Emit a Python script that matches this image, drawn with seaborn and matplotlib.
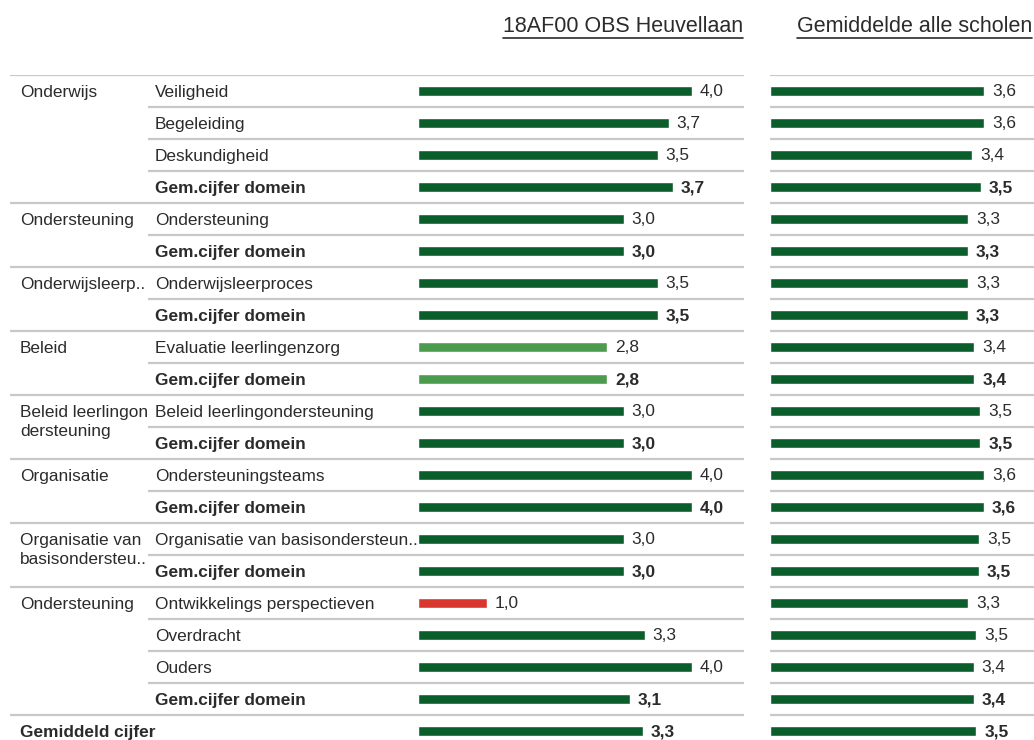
import matplotlib
matplotlib.use('Agg')
import matplotlib.pyplot as plt
from matplotlib.lines import Line2D
import pandas as pd
import seaborn as sns

# Data
groepen = ['Onderwijs', 'Ondersteuning', 'Onderwijsleerp..', 'Beleid',
           'Beleid leerlingon\ndersteuning', 'Organisatie',
           'Organisatie van\nbasisondersteu..', 'Ondersteuning', 'Gemiddeld cijfer']
groep_rijen = [4, 2, 2, 2, 2, 2, 2, 4, 1]
items = ['Veiligheid', 'Begeleiding', 'Deskundigheid', 'Gem.cijfer domein',
         'Ondersteuning', 'Gem.cijfer domein',
         'Onderwijsleerproces', 'Gem.cijfer domein',
         'Evaluatie leerlingenzorg', 'Gem.cijfer domein',
         'Beleid leerlingondersteuning', 'Gem.cijfer domein',
         'Ondersteuningsteams', 'Gem.cijfer domein',
         'Organisatie van basisondersteun..', 'Gem.cijfer domein',
         'Ontwikkelings perspectieven', 'Overdracht', 'Ouders', 'Gem.cijfer domein',
         '']
school = [4.0, 3.66, 3.5, 3.72, 3.0, 3.0, 3.5, 3.5, 2.76, 2.76, 3.0, 3.0,
          4.0, 4.0, 3.0, 3.0, 1.0, 3.31, 4.0, 3.09, 3.28]
alle_scholen = [3.6, 3.6, 3.4, 3.55, 3.33, 3.33, 3.33, 3.33, 3.44, 3.44, 3.54, 3.54,
                3.6, 3.6, 3.52, 3.52, 3.34, 3.47, 3.43, 3.43, 3.47]

W, H = 1034, 740
ROW = 32
TOP = 75
n = len(items)
lijn = '#c8c8c8'
tekst = '#2b2b2b'


def kleur(v):
    if v < 2:
        return '#d93630'
    if v < 2.9:
        return '#4b9c4f'
    return '#0b5e2b'


def bold_rij(i):
    return items[i] in ('Gem.cijfer domein', '')


sns.set_theme(style='white')
plt.rcParams['font.family'] = ['Liberation Sans', 'DejaVu Sans']

fig = plt.figure(figsize=(W / 100, H / 100), dpi=100)
bottom = (H - (TOP + n * ROW)) / H
height = n * ROW / H


def make_ax(x0, x1):
    ax = fig.add_axes([x0 / W, bottom, (x1 - x0) / W, height])
    ax.set_ylim(n - 0.5, -0.5)
    ax.axis('off')
    return ax


ax0 = make_ax(0, 418)
ax0.set_xlim(0, 418)
ax1 = make_ax(418, 744)
ax1.set_xlim(0, 326 / 68.5)
ax2 = make_ax(770, 1034)
ax2.set_xlim(0, 264 / 59.4)

# groepsgrenzen
grens = [0]
for g in groep_rijen:
    grens.append(grens[-1] + g)

# lijnen in het labelgebied
for b in range(n + 1):
    xmin = 10 if b in grens else 148
    ax0.plot([xmin, 418], [b - 0.5, b - 0.5], color=lijn, lw=1.6, solid_capstyle='butt')
for ax in (ax1, ax2):
    for b in range(n + 1):
        ax.axhline(b - 0.5, color=lijn, lw=1.6, zorder=0)

# labels
for gi, g in enumerate(groepen):
    start = grens[gi]
    gewicht = 'bold' if g == 'Gemiddeld cijfer' else 'normal'
    for k, regel in enumerate(g.split('\n')):
        ax0.text(20, start + 0.04 + k * 0.6, regel, fontsize=12.4, color=tekst,
                 va='center', ha='left', fontweight=gewicht)
for i, it in enumerate(items):
    ax0.text(155, i + 0.06, it, fontsize=12.4, color=tekst, va='center', ha='left',
             fontweight='bold' if bold_rij(i) else 'normal')

# balken
df = pd.DataFrame({'rij': [str(i) for i in range(n)], 'school': school, 'alle': alle_scholen})
for ax, kol, px in ((ax1, 'school', 68.5), (ax2, 'alle', 59.4)):
    kleuren = [kleur(v) for v in df[kol]]
    sns.barplot(data=df, x=kol, y='rij', hue='rij', palette=kleuren, legend=False,
                width=0.3, orient='h', ax=ax, saturation=1)
    ax.set_ylim(n - 0.5, -0.5)
    ax.axis('off')
    for i, v in enumerate(df[kol]):
        ax.text(v + 8 / px, i + 0.03, f'{v:.1f}'.replace('.', ','), fontsize=12.4,
                color=tekst, va='center', ha='left',
                fontweight='bold' if bold_rij(i) else 'normal')

# titels met onderstreping
fig.canvas.draw()
renderer = fig.canvas.get_renderer()
for titel, xr in (('18AF00 OBS Heuvellaan', 743), ('Gemiddelde alle scholen', 1032)):
    t = fig.text(xr / W, 1 - 27 / H, titel, fontsize=15.5, color=tekst,
                 ha='right', va='center')
    bb = t.get_window_extent(renderer)
    y = bb.y0
    fig.add_artist(Line2D([bb.x0 / W, bb.x1 / W], [y / H, y / H], color=tekst, lw=1.2,
                          transform=fig.transFigure))

fig.savefig('out.png', dpi=100)
